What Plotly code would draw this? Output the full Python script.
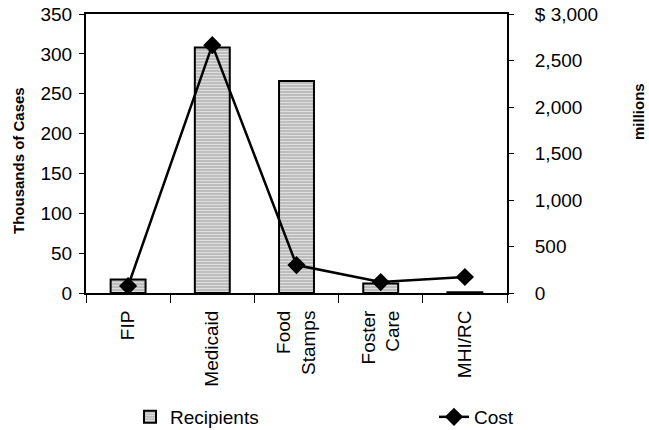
import plotly.graph_objects as go

categories = ["FIP", "Medicaid", "Food<br>Stamps", "Foster<br>Care", "MHI/RC"]
recipients = [17, 308, 266, 12, 1]
cost = [75, 2665, 300, 118, 172]

left_ticks = [0, 50, 100, 150, 200, 250, 300, 350]
right_ticks = [0, 500, 1000, 1500, 2000, 2500, 3000]
right_ticktext = ["0", "500", "1,000", "1,500", "2,000", "2,500", "$ 3,000"]

FONT = "Liberation Sans, Arial, sans-serif"
W, H = 649, 430
L, R, T, B = 86, 142, 14, 137
PW = W - L - R
PH = H - T - B


def px_x(x):
    return (x - L) / PW


def px_y(y):
    return (H - B - y) / PH


fig = go.Figure()
fig.add_trace(go.Bar(
    x=categories, y=recipients, name="Recipients", width=0.415,
    marker=dict(color="#c0c0c0", line=dict(color="black", width=2),
                pattern=dict(shape="-", fgcolor="white", bgcolor="#bdbdbd",
                             size=3, solidity=0.35)),
    yaxis="y", legend="legend"))
fig.add_trace(go.Scatter(
    x=categories, y=cost, name="Cost", mode="lines+markers",
    line=dict(color="black", width=2.5),
    marker=dict(symbol="diamond", size=14, color="black"),
    yaxis="y2", legend="legend2"))

fig.update_layout(
    width=W, height=H,
    margin=dict(l=L, r=R, t=T, b=B),
    paper_bgcolor="white", plot_bgcolor="white",
    font=dict(family=FONT, size=19, color="black"),
    showlegend=True,
    xaxis=dict(showline=True, linecolor="black", linewidth=2, mirror=True,
               ticks="outside", tickson="boundaries", ticklen=8, tickwidth=1,
               tickcolor="black", tickangle=-90, showgrid=False,
               automargin=False, tickfont=dict(size=19),
               ticklabelstandoff=8),
    yaxis=dict(range=[0, 350], tickvals=left_ticks, showline=True,
               linecolor="black", linewidth=2, ticks="outside", ticklen=5,
               tickcolor="black", showgrid=False, zeroline=False,
               ticklabelstandoff=3, automargin=False),
    yaxis2=dict(range=[0, 3000], tickvals=right_ticks, ticktext=right_ticktext,
                overlaying="y", side="right", showline=True, linecolor="black",
                linewidth=2, ticks="outside", ticklen=5, tickcolor="black",
                showgrid=False, zeroline=False, ticklabelstandoff=17,
                automargin=False),
    legend=dict(orientation="h", xref="container", yref="container",
                x=130 / W, xanchor="left", y=1 - 417 / H, yanchor="middle",
                font=dict(size=19), bgcolor="rgba(0,0,0,0)"),
    legend2=dict(orientation="h", xref="container", yref="container",
                 x=434 / W, xanchor="left", y=1 - 417 / H, yanchor="middle",
                 font=dict(size=19), bgcolor="rgba(0,0,0,0)"),
    annotations=[
        dict(text="<b>Thousands of Cases</b>", textangle=-90, xref="paper",
             yref="paper", x=px_x(18), y=px_y(161),
             showarrow=False, xanchor="center", yanchor="middle",
             font=dict(size=15)),
        dict(text="<b>millions</b>", textangle=-90, xref="paper", yref="paper",
             x=px_x(638), y=px_y(112), showarrow=False, xanchor="center",
             yanchor="middle", font=dict(size=15)),
    ],
)

fig.write_html("out.html")
